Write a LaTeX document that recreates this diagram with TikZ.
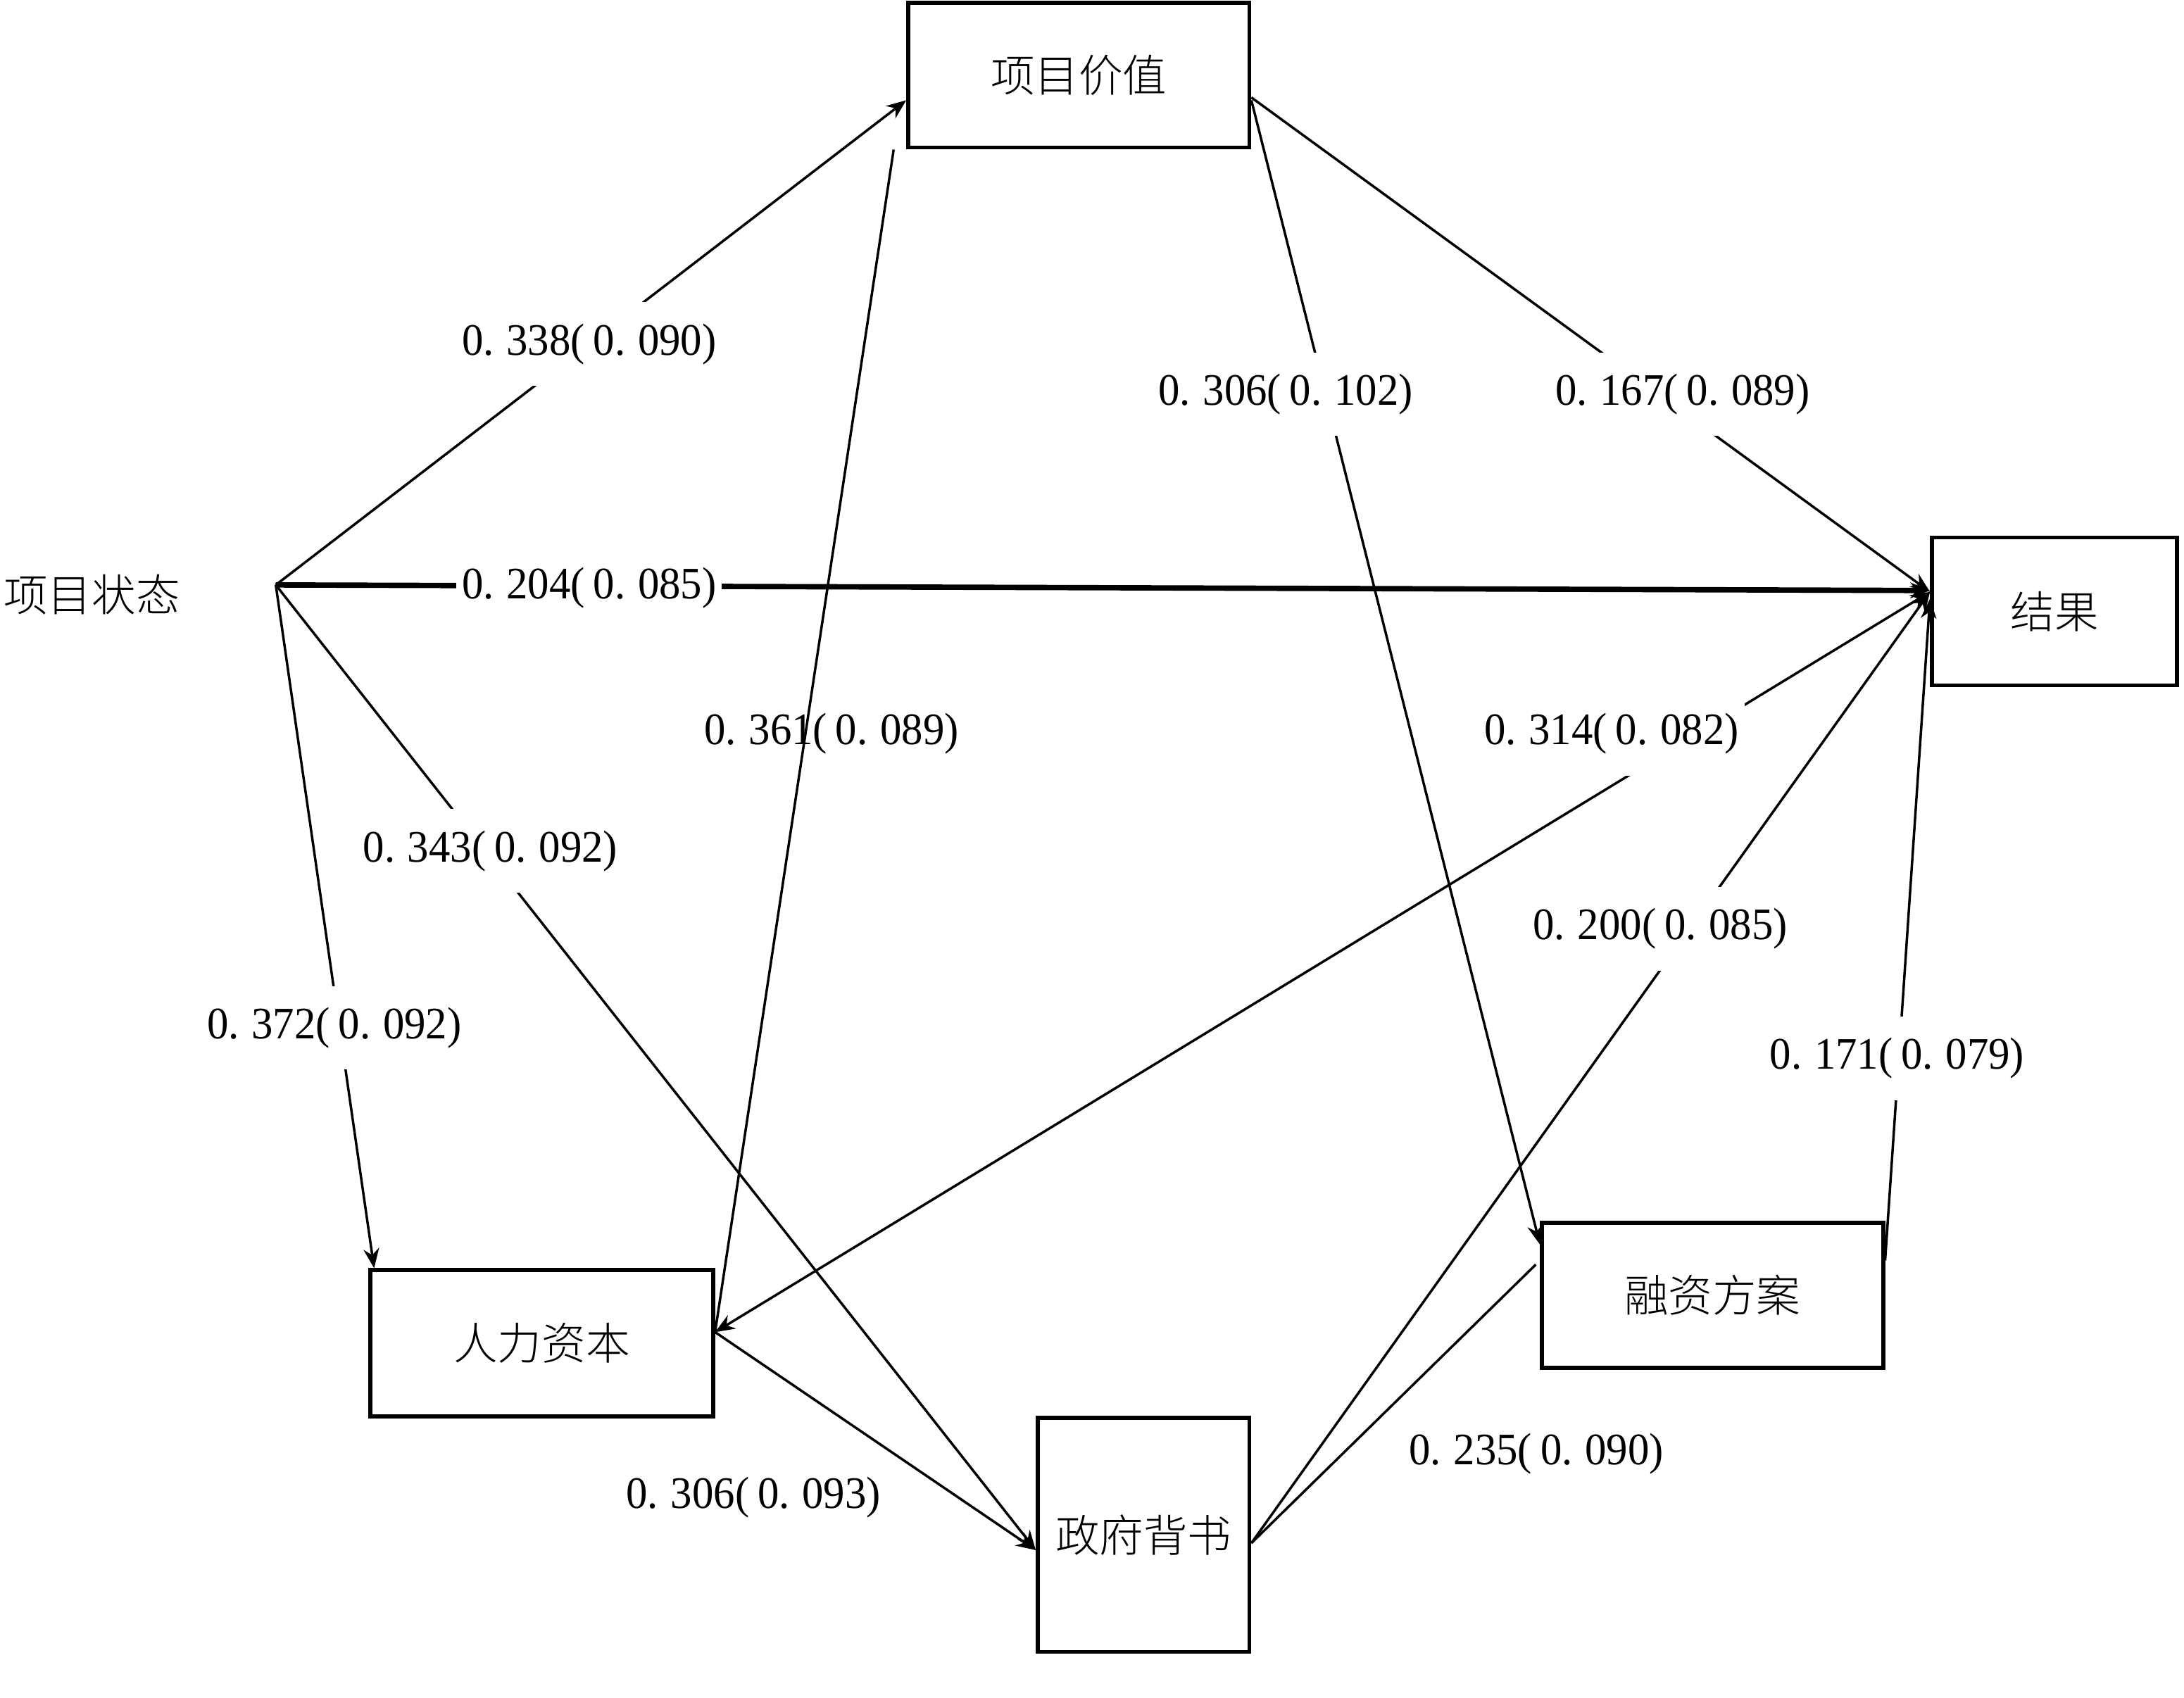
\documentclass[tikz,border=0pt]{standalone}
\usepackage{fontspec}
\usepackage{tikz}
\usetikzlibrary{arrows.meta,positioning}
\newfontfamily\cjk{Noto Sans CJK SC}[UprightFont={* Light}]
\newfontfamily\numfont{Liberation Serif}[FakeStretch=0.95]
\newcommand{\coef}[2]{{\numfont 0.\hspace{0.9mm}#1(\hspace{0.6mm}0.\hspace{0.9mm}#2)}}

\begin{document}
\begin{tikzpicture}[>={Stealth[length=4pt,width=3.2pt]},line width=0.5pt]
    \useasboundingbox (0,0) rectangle (15.68,-12.19);
    \tikzset{box/.style={draw,line width=0.8pt,font=\fontsize{9}{11}\selectfont\cjk}}
    \tikzset{lbl/.style={font=\fontsize{9.2}{10}\selectfont,fill=white,inner xsep=0.4mm,minimum height=6mm}}
    \tikzset{lblfree/.style={font=\fontsize{9.2}{10}\selectfont,inner sep=0.4mm}}

    \node[font=\fontsize{9}{11}\selectfont\cjk] (status) at (0.66,-4.27) {项目状态};
    \node[box,minimum width=2.45cm,minimum height=1.04cm] (value)   at (7.745,-0.54) {项目价值};
    \node[box,minimum width=1.76cm,minimum height=1.06cm] (result)  at (14.75,-4.39) {结果};
    \node[box,minimum width=2.46cm,minimum height=1.05cm] (human)   at (3.89,-9.645) {人力资本};
    \node[box,minimum width=1.52cm,minimum height=1.68cm] (gov)     at (8.21,-11.02) {政府背书};
    \node[box,minimum width=2.45cm,minimum height=1.04cm] (finance) at (12.295,-9.30) {融资方案};
    \coordinate (hub) at (1.98,-4.20);

    % paths out of the project status
    \path (hub) edge [->] ([yshift=-1.8mm]value.west)
          (hub) edge [->,line width=1.1pt] ([yshift=1.5mm]result.west)
          (hub) edge [->] ([yshift=-1.1mm]gov.west)
          (hub) edge [->] ([xshift=0.4mm]human.north west);
    % the mediators
    \path ([xshift=-0.9mm]value.south west) edge ([yshift=0.8mm]human.east)
          ([yshift=0.8mm]human.east) edge [<->] ([yshift=1.4mm]result.west)
          ([yshift=0.8mm]human.east) edge [->] ([yshift=-1.1mm]gov.west)
          ([yshift=-1.6mm]value.east) edge [->] ([yshift=1.4mm]result.west)
          ([yshift=-1.8mm]value.east) edge [->] ([yshift=-1.7mm]finance.north west)
          ([yshift=-0.6mm]gov.east) edge [->] ([yshift=1.4mm]result.west)
          ([yshift=-0.6mm]gov.east) edge ([xshift=-0.3mm,yshift=2.2mm]finance.west)
          ([yshift=2.5mm]finance.east) edge [->] ([yshift=0.9mm]result.west);

    % coefficients
    \node[lbl] (c338) at (4.23,-2.47) {\coef{338}{090}};
    \node[lbl] (c204) at (4.23,-4.22) {\coef{204}{085}};
    \node[lbl] (c343) at (3.52,-6.11) {\coef{343}{092}};
    \node[lbl] (c372) at (2.40,-7.38) {\coef{372}{092}};
    \node[lblfree] (c361) at (5.97,-5.27) {\coef{361}{089}};
    \node[lbl] (c306a) at (9.23,-2.83) {\coef{306}{102}};
    \node[lbl] (c167) at (12.08,-2.83) {\coef{167}{089}};
    \node[lbl] (c314) at (11.57,-5.27) {\coef{314}{082}};
    \node[lbl] (c200) at (11.92,-6.67) {\coef{200}{085}};
    \node[lbl] (c171) at (13.62,-7.60) {\coef{171}{079}};
    \node[lblfree] (c235) at (11.03,-10.44) {\coef{235}{090}};
    \node[lblfree] (c306b) at (5.41,-10.75) {\coef{306}{093}};
\end{tikzpicture}
\end{document}
